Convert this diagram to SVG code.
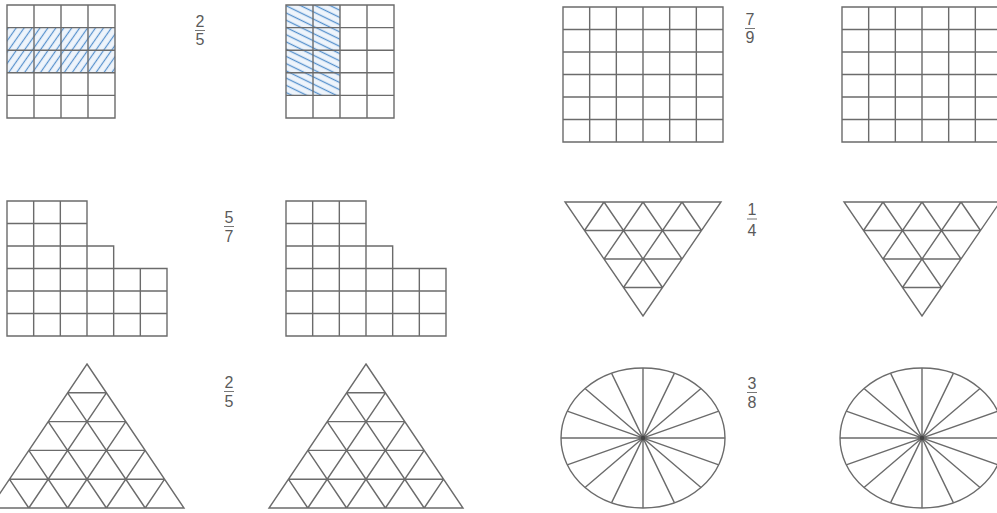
<svg xmlns="http://www.w3.org/2000/svg" xmlns:xlink="http://www.w3.org/1999/xlink" width="997" height="513" viewBox="0 0 997 513">
<style>
.ln{fill:none;stroke:#6b6b6b;stroke-width:1.4;stroke-linejoin:miter}
.fr{font-family:"Liberation Sans",Arial,sans-serif;font-size:16px;fill:#5a5a5a;text-anchor:middle}
.bar{stroke:#777;stroke-width:1}
.tint{fill:#eef4fb}
</style>
<defs>
<pattern id="h1" patternUnits="userSpaceOnUse" width="6.5" height="6.5" patternTransform="rotate(-55)">
<line x1="0" y1="3.25" x2="6.5" y2="3.25" stroke="#5590cc" stroke-width="1.2"/>
</pattern>
<pattern id="h2" patternUnits="userSpaceOnUse" width="6.5" height="6.5" patternTransform="rotate(26)">
<line x1="0" y1="3.25" x2="6.5" y2="3.25" stroke="#5590cc" stroke-width="1.3"/>
</pattern>
<g id="g45">
<path class="ln" d="M0,0H108V113H0Z M27,0V113 M54,0V113 M81,0V113 M0,22.6H108 M0,45.2H108 M0,67.8H108 M0,90.4H108"/>
</g>
<g id="g66">
<path class="ln" d="M0,0H160V135H0Z M26.67,0V135 M53.33,0V135 M80,0V135 M106.67,0V135 M133.33,0V135 M0,22.5H160 M0,45H160 M0,67.5H160 M0,90H160 M0,112.5H160"/>
</g>
<g id="lsh">
<path class="ln" d="M0,0H80V45H106.67V67.5H160V135H0Z M26.67,0V135 M53.33,0V135 M80,45V135 M106.67,67.5V135 M133.33,67.5V135 M0,22.5H80 M0,45H80 M0,67.5H106.67 M0,90H160 M0,112.5H160"/>
</g>
<g id="tdown">
<path class="ln" d="M565,202H721L643,316Z M584.5,230.5H701.5 M604,259H682 M623.5,287.5H662.5 M604,202L662.5,287.5 M643,202L682,259 M682,202L701.5,230.5 M604,202L584.5,230.5 M643,202L604,259 M682,202L623.5,287.5"/>
</g>
<g id="tup">
<path class="ln" d="M87,364L184,508H-10Z M67.6,392.8H106.4 M48.2,421.6H125.8 M28.8,450.4H145.2 M9.4,479.2H164.6 M67.6,392.8L145.2,508 M48.2,421.6L106.4,508 M28.8,450.4L67.6,508 M9.4,479.2L28.8,508 M106.4,392.8L28.8,508 M125.8,421.6L67.6,508 M145.2,450.4L106.4,508 M164.6,479.2L145.2,508"/>
</g>
<g id="ell">
<ellipse class="ln" cx="643" cy="438" rx="82" ry="70"/>
<path class="ln" d="M561,438H725 M567.24,411.21L718.76,464.79 M585.02,388.5L700.98,487.5 M611.62,373.33L674.38,502.67 M643,368V508 M674.38,373.33L611.62,502.67 M700.98,388.5L585.02,487.5 M718.76,411.21L567.24,464.79"/>
<circle cx="643" cy="438" r="2.3" fill="#444"/>
</g>
</defs>
<g id="grid-a">
<rect class="tint" x="7" y="27.6" width="108" height="45.2"/>
<rect x="7" y="27.6" width="108" height="45.2" fill="url(#h1)"/>
<use xlink:href="#g45" x="7" y="5"/>
</g>
<g id="frac-a"><text class="fr" x="200" y="27">2</text><line class="bar" x1="195" y1="30.5" x2="205" y2="30.5"/><text class="fr" x="200" y="45">5</text></g>
<g id="grid-b">
<rect class="tint" x="286" y="5" width="54" height="90.4"/>
<rect x="286" y="5" width="54" height="90.4" fill="url(#h2)"/>
<use xlink:href="#g45" x="286" y="5"/>
</g>
<g id="grid-c"><use xlink:href="#g66" x="563" y="7"/></g>
<g id="frac-c"><text class="fr" x="750" y="25">7</text><line class="bar" x1="745" y1="28.5" x2="755" y2="28.5"/><text class="fr" x="750" y="43">9</text></g>
<g id="grid-d"><use xlink:href="#g66" x="842" y="7"/></g>
<g id="lshape-a"><use xlink:href="#lsh" x="7" y="201"/></g>
<g id="frac-l"><text class="fr" x="229" y="223">5</text><line class="bar" x1="224" y1="226.5" x2="234" y2="226.5"/><text class="fr" x="229" y="242">7</text></g>
<g id="lshape-b"><use xlink:href="#lsh" x="286" y="201"/></g>
<g id="tri-down-a"><use xlink:href="#tdown"/></g>
<g id="frac-t"><text class="fr" x="752" y="215">1</text><line class="bar" x1="747" y1="219" x2="757" y2="219"/><text class="fr" x="752" y="236">4</text></g>
<g id="tri-down-b"><use xlink:href="#tdown" x="279"/></g>
<g id="tri-up-a"><use xlink:href="#tup"/></g>
<g id="frac-u"><text class="fr" x="229" y="388">2</text><line class="bar" x1="224" y1="391.5" x2="234" y2="391.5"/><text class="fr" x="229" y="407">5</text></g>
<g id="tri-up-b"><use xlink:href="#tup" x="279"/></g>
<g id="circle-a"><use xlink:href="#ell"/></g>
<g id="frac-e"><text class="fr" x="752" y="389">3</text><line class="bar" x1="747" y1="392.5" x2="757" y2="392.5"/><text class="fr" x="752" y="408">8</text></g>
<g id="circle-b"><use xlink:href="#ell" x="279"/></g>
<g id="connectors"></g>
</svg>
